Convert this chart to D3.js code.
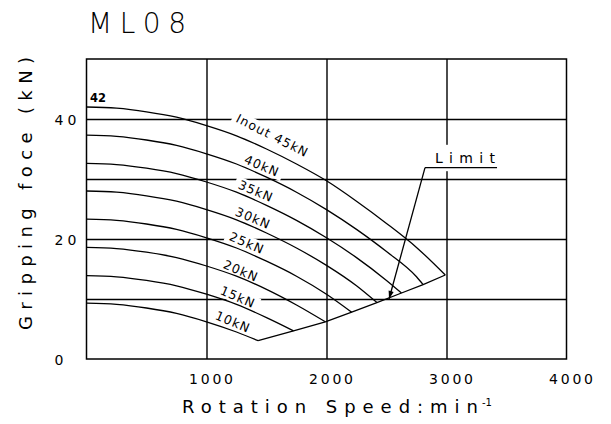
<!DOCTYPE html>
<html><head><meta charset="utf-8">
<script src="https://cdn.jsdelivr.net/npm/d3@7"></script>
<style>body{margin:0;background:#fff} svg{display:block}</style>
</head><body><svg id="c" width="611" height="424"></svg>
<script>
// ---- data ----
const title = "ML08";
const xTicks = [1000, 2000, 3000, 4000];
const yTicks = [0, 20, 40];
const xGrid = [1000, 2000, 3000];
const yGrid = [10, 20, 30, 40];
const seriesNames = ["Inout 45kN", "40kN", "35kN", "30kN", "25kN", "20kN", "15kN", "10kN"];
const curve45 = [[0,42],[250,41.8],[500,41.2],[750,40.3],[1000,38.9],[1250,37.2],[1500,35.0],[1750,32.5],[2000,29.7],[2250,26.3],[2500,22.6],[2750,18.6],[2990,14.0]];
const curve40 = [[0,37.3],[250,37.1],[500,36.5],[750,35.6],[1000,34.2],[1250,32.5],[1500,30.3],[1750,27.8],[2000,24.9],[2250,21.6],[2500,17.9],[2750,13.7],[2805,12.4]];
const curve35 = [[0,32.6],[250,32.4],[500,31.8],[750,30.9],[1000,29.5],[1250,27.8],[1500,25.6],[1750,23.1],[2000,20.2],[2250,16.9],[2500,13.1],[2625,11.0]];
const curve30 = [[0,28.0],[250,27.8],[500,27.2],[750,26.3],[1000,24.9],[1250,23.2],[1500,21.0],[1750,18.5],[2000,15.6],[2250,12.2],[2420,9.4]];
const curve25 = [[0,23.3],[250,23.1],[500,22.5],[750,21.6],[1000,20.2],[1250,18.5],[1500,16.3],[1750,13.8],[2000,10.8],[2210,7.8]];
const curve20 = [[0,18.6],[250,18.4],[500,17.8],[750,16.9],[1000,15.5],[1250,13.8],[1500,11.6],[1750,9.0],[1990,6.2]];
const curve15 = [[0,13.9],[250,13.7],[500,13.1],[750,12.2],[1000,10.8],[1250,9.1],[1500,6.9],[1725,4.7]];
const curve10 = [[0,9.3],[250,9.1],[500,8.5],[750,7.6],[1000,6.2],[1250,4.5],[1430,3.05]];
const curves = [curve45, curve40, curve35, curve30, curve25, curve20, curve15, curve10];
const limitLine = [[1430,3.05],[1725,4.7],[1990,6.2],[2210,7.8],[2420,9.4],[2625,11.0],[2805,12.4],[2990,14.0]];
const startLabel = "42";
const limitLabel = "Limit";

// ---- layout ----
const M = {left: 86.5, right: 566.5, top: 59, bottom: 359};
const x = d3.scaleLinear().domain([0, 4000]).range([M.left, M.right]);
const y = d3.scaleLinear().domain([0, 50]).range([M.bottom, M.top]);
const labelLayout = [ // [rpm, kN, angle] of label centres
  [1550, 37.25, 27], [1462, 32.2, 23], [1412, 28.0, 23], [1388, 23.5, 23],
  [1337, 19.35, 23], [1287, 14.7, 23], [1262, 10.35, 23], [1221, 6.2, 23]];
const FONT = "'DejaVu Sans', Arial, sans-serif";

const svg = d3.select("#c");
svg.append("rect").attr("width", 611).attr("height", 424).attr("fill", "#fff");
const gGrid = svg.append("g");
const gBg = svg.append("g");
const gFrame = svg.append("g");
const gCurves = svg.append("g");
const gText = svg.append("g");

// grid
const gx = gGrid.append("g").attr("transform", `translate(0,${M.bottom})`)
  .call(d3.axisBottom(x).tickValues(xGrid).tickSize(-(M.bottom - M.top)).tickFormat(""));
const gy = gGrid.append("g").attr("transform", `translate(${M.left},0)`)
  .call(d3.axisLeft(y).tickValues(yGrid).tickSize(-(M.right - M.left)).tickFormat(""));
[gx, gy].forEach(g => {
  g.select(".domain").remove();
  g.selectAll("line").attr("stroke", "#000").attr("stroke-width", 1.4);
});
gFrame.append("rect").attr("x", M.left).attr("y", M.top)
  .attr("width", M.right - M.left).attr("height", M.bottom - M.top)
  .attr("fill", "none").attr("stroke", "#000").attr("stroke-width", 1.5);

// tick labels via axes
const ax = gText.append("g").attr("transform", `translate(0,${M.bottom})`)
  .call(d3.axisBottom(x).tickValues(xTicks).tickSize(0).tickPadding(0).tickFormat(d3.format("d")));
ax.select(".domain").remove();
ax.selectAll("text").attr("y", 25).attr("dy", 0).attr("dx", 4)
  .attr("font-family", FONT).attr("font-size", 14).attr("fill", "#000")
  .attr("textLength", 44).attr("lengthAdjust", "spacing");
const ay = gText.append("g").attr("transform", `translate(${M.left},0)`)
  .call(d3.axisLeft(y).tickValues(yTicks).tickSize(0).tickFormat(d3.format("d")));
ay.select(".domain").remove();
ay.selectAll("text").attr("x", -32).attr("text-anchor", "start").attr("dy", "0.36em")
  .attr("font-family", FONT).attr("font-size", 14).attr("fill", "#000")
  .each(function(d){ if (String(d).length > 1) d3.select(this).attr("textLength", 22).attr("lengthAdjust","spacing"); });

// curve labels with white knock-out backgrounds
seriesNames.forEach((name, i) => {
  const [r, k, a] = labelLayout[i];
  const tr = `translate(${x(r)},${y(k)}) rotate(${a})`;
  const t = gText.append("text").text(name).attr("transform", tr)
    .attr("text-anchor", "middle").attr("dy", "0.36em")
    .attr("font-family", FONT).attr("font-size", 12.5).attr("letter-spacing", 1.1).attr("fill", "#000");
  const w = t.node().getComputedTextLength();
  gBg.append("rect").attr("transform", tr)
    .attr("x", -w/2 - 4).attr("y", -7).attr("width", w + 8).attr("height", 14).attr("fill", "#fff");
});

// curves
const line = d3.line().x(d => x(d[0])).y(d => y(d[1])).curve(d3.curveMonotoneX);
gCurves.selectAll("path.c").data(curves).join("path").attr("class", "c")
  .attr("d", line).attr("fill", "none").attr("stroke", "#000").attr("stroke-width", 1.3);
gCurves.append("path").attr("d", d3.line().x(d => x(d[0])).y(d => y(d[1]))(limitLine))
  .attr("fill", "none").attr("stroke", "#000").attr("stroke-width", 1.3);

// limit annotation
gBg.append("rect").attr("x", x(2821)).attr("y", y(35.7)).attr("width", x(3421) - x(2821))
  .attr("height", y(31.3) - y(35.7)).attr("fill", "#fff");
gText.append("text").text(limitLabel).attr("x", x(3154)).attr("y", y(33.5)).attr("dy", "0.36em")
  .attr("text-anchor", "middle").attr("font-family", FONT).attr("font-size", 14)
  .attr("textLength", 60).attr("lengthAdjust", "spacing");
gCurves.append("line").attr("x1", x(2821)).attr("x2", x(3421)).attr("y1", y(31.9)).attr("y2", y(31.9))
  .attr("stroke", "#000").attr("stroke-width", 1.4);
const ax0 = x(2821), ay0 = y(31.9), ax1 = x(2521), ay1 = y(10.0);
gCurves.append("line").attr("x1", ax0).attr("y1", ay0).attr("x2", ax1).attr("y2", ay1)
  .attr("stroke", "#000").attr("stroke-width", 1.3);
const ang = Math.atan2(ay1 - ay0, ax1 - ax0);
const L = 8, Wd = 2.6;
const bx = ax1 - L * Math.cos(ang), by = ay1 - L * Math.sin(ang);
gCurves.append("path").attr("d", `M${ax1},${ay1}L${bx + Wd*Math.sin(ang)},${by - Wd*Math.cos(ang)}L${bx - Wd*Math.sin(ang)},${by + Wd*Math.cos(ang)}Z`)
  .attr("fill", "#000");

// "42" start label
gText.append("text").text(startLabel).attr("x", x(30)).attr("y", y(42) - 5)
  .attr("font-family", FONT).attr("font-size", 11.5).attr("font-weight", "bold").attr("fill", "#000");

// title
gText.append("text").text(title).attr("x", 88).attr("y", 33)
  .attr("font-family", FONT).attr("font-weight", 200).attr("font-size", 28)
  .attr("textLength", 98).attr("lengthAdjust", "spacing");

// axis titles
gText.append("text").text("Gripping foce (kN)")
  .attr("transform", `translate(32,193.5) rotate(-90)`).attr("text-anchor", "middle")
  .attr("font-family", FONT).attr("font-size", 18).attr("textLength", 273).attr("lengthAdjust", "spacing");
const xt = gText.append("text").attr("x", 182).attr("y", 413)
  .attr("font-family", FONT).attr("font-size", 18);
xt.append("tspan").text("Rotation Speed:min").attr("textLength", 296).attr("lengthAdjust", "spacing");
xt.append("tspan").text("-1").attr("font-size", 10).attr("dy", -7).attr("dx", -3);
</script></body></html>
